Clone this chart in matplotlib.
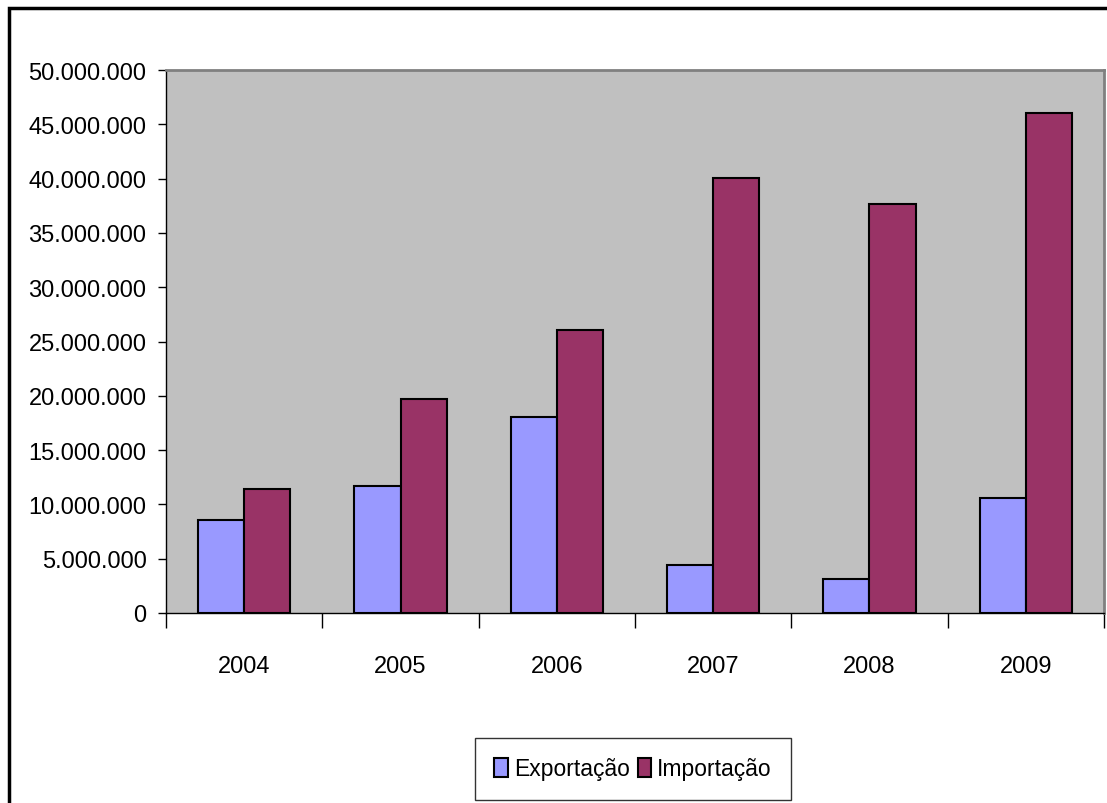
import matplotlib
matplotlib.use("Agg")
import matplotlib.pyplot as plt
import numpy as np
from matplotlib.patches import Rectangle

years = ["2004", "2005", "2006", "2007", "2008", "2009"]
exportacao = [8530000, 11690000, 18080000, 4450000, 3170000, 10590000]
importacao = [11420000, 19700000, 26020000, 40100000, 37700000, 46000000]
series_names = ["Exportação", "Importação"]
colors = ["#9999FF", "#993366"]

plt.rcParams['font.family'] = ['Liberation Sans', 'DejaVu Sans']

W, H = 1107, 804
fig = plt.figure(figsize=(W / 100, H / 100), dpi=100)
ax = fig.add_axes([166 / W, (H - 614) / H, (1104 - 166) / W, (614 - 71) / H])
ax.set_facecolor("#C0C0C0")

x = np.arange(len(years))
bw = 46 / 156.3
ax.bar(x - bw / 2, exportacao, bw, color=colors[0], edgecolor="black", linewidth=1.5, label=series_names[0])
ax.bar(x + bw / 2, importacao, bw, color=colors[1], edgecolor="black", linewidth=1.5, label=series_names[1])

ax.set_xlim(-0.5, len(years) - 0.5)
ax.set_ylim(0, 50000000)
yt = np.arange(0, 50000001, 5000000)
ax.set_yticks(yt)
ax.set_yticklabels([f"{v:,}".replace(",", ".") for v in yt])
ax.set_xticks(x)
ax.set_xticklabels(years)
ax.set_xticks(np.arange(-0.5, len(years), 1), minor=True)
ax.tick_params(axis="x", which="major", length=0, pad=30, labelsize=17)
ax.tick_params(axis="x", which="minor", length=11, width=1, color="black", direction="out")
ax.tick_params(axis="y", length=6, width=1, color="black", direction="out", pad=8, labelsize=17)

for s in ["top", "right"]:
    ax.spines[s].set_color("#808080")
    ax.spines[s].set_linewidth(2)
for s in ["left", "bottom"]:
    ax.spines[s].set_color("black")
    ax.spines[s].set_linewidth(1)

leg = ax.legend(loc="center", bbox_to_anchor=((633 - 166) / (1104 - 166), (614 - 770) / (614 - 71)),
                ncol=2, frameon=True, fancybox=False, fontsize=16.5, handlelength=0.6, handleheight=0.9,
                handletextpad=0.25, columnspacing=0.35, borderpad=0.85, edgecolor="black")
leg.get_frame().set_linewidth(1)
for h in leg.legend_handles:
    h.set_linewidth(1.5)

fig.patches.append(Rectangle((9 / W, -0.1), 1.2, (H - 9) / H + 0.1, transform=fig.transFigure,
                             fill=False, edgecolor="black", linewidth=2.5, clip_on=False))

fig.savefig("out.png", dpi=100)
